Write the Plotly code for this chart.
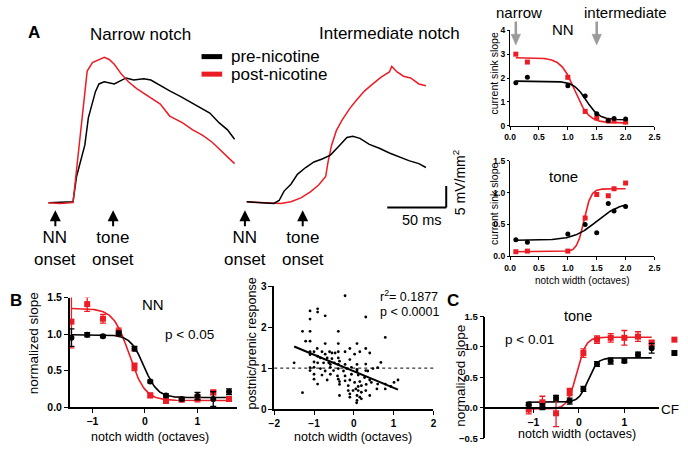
import numpy as np
import plotly.graph_objects as go

W, H = 688, 452
RED = "#ec1c24"
BLK = "#000000"
GREY = "#9a9a9a"
FONT = "Liberation Sans, Arial, sans-serif"

# ---------------- Panel A: example current-sink traces (ms, mV/mm^2) -------------
narrow_pre_t = [0, 21, 24, 27.5, 31, 34, 37, 40, 43, 47.5, 56, 62, 66, 72.5, 81, 87, 95, 103, 112, 120, 128, 137, 145, 152, 158]
narrow_pre_v = [0, 0.2, 6.1, 9.5, 13.4, 19.8, 23.2, 25.9, 27.7, 28.2, 27.7, 28.6, 29.1, 28.6, 28.9, 28.6, 27.3, 26.1, 24.8, 23.6, 22.3, 20.9, 18.6, 17.0, 14.8]
narrow_post_t = [0, 10, 21, 24, 27.5, 31, 33, 37.5, 41.7, 47.5, 51.7, 56, 62, 68, 75, 85, 95, 103, 114, 122.5, 131, 139, 147.5, 158]
narrow_post_v = [0, -0.2, 0, 7.3, 16.4, 24.3, 30.7, 32.7, 33.2, 33.9, 33.4, 32.3, 30.0, 28.2, 26.6, 24.8, 23.0, 20.2, 18.6, 17.0, 15.7, 14.1, 11.8, 9.1]
inter_pre_t = [0, 12.5, 23, 27.5, 31.7, 37.5, 43, 50, 57, 64, 71, 77.5, 85, 90, 96, 104, 112.5, 121, 129, 137.5, 146, 152]
inter_pre_v = [0.2, 0, -0.2, 0.5, 2.7, 4.3, 6.6, 8.2, 9.5, 10.2, 11.1, 13.0, 15.2, 15.5, 15.0, 13.6, 12.7, 11.6, 10.7, 9.8, 9.1, 8.2]
inter_post_t = [0, 16.7, 29, 37.5, 46, 54, 61, 67, 69, 72, 76, 81, 87.5, 93, 100, 107, 114, 121, 123, 127.5, 133, 139, 146, 152]
inter_post_v = [0.2, 0, -0.2, 0.2, 1.1, 2.5, 4.1, 6.1, 9.5, 13.4, 16.8, 19.3, 22.0, 23.9, 26.1, 27.7, 29.3, 30.5, 31.8, 30.5, 29.5, 29.1, 27.7, 27.3]
narrow_onsets = [6, 55]        # NN onset, tone onset (ms)
inter_onsets = [-1.5, 47.5]
onset_labels = ["NN<br>onset", "tone<br>onset"]
scale_ms, scale_mv = 50, 5

# ---------------- Panel A right: current sink slope vs notch width ----------------
width_oct = [0.1, 0.3, 1.0, 1.3, 1.5, 1.7, 1.8, 2.0]
nn_pre = [1.80, 2.03, 1.68, 1.25, 0.50, 0.22, 0.30, 0.28]
nn_post = [3.00, 2.67, 2.03, 0.60, 0.32, 0.20, 0.20, 0.15]
tone_pre = [0.26, 0.22, 0.35, 0.50, 0.37, 0.83, 0.71, 0.78]
tone_post = [0.07, 0.08, 0.08, 0.60, 0.97, 0.95, 1.06, 1.15]
# sigmoid fit parameters: (left level, right level, x50, slope factor)
nn_pre_fit = (1.87, 0.25, 1.32, 0.11)
nn_post_fit = (2.85, 0.12, 1.12, 0.12)
tone_pre_fit = (0.25, 0.85, 1.50, 0.20)
tone_post_fit = (0.07, 1.06, 1.28, 0.06)
arrow_marks = {"narrow": 0.1, "intermediate": 1.5}

# ---------------- Panel B: NN normalized slope -------------------------------------
b_x = [-1.4, -1.1, -0.8, -0.5, -0.2, 0.1, 0.4, 0.7, 1.0, 1.3, 1.6]
b_pre = [0.95, 0.99, 0.97, 1.01, 0.80, 0.35, 0.16, 0.11, 0.15, 0.11, 0.21]
b_pre_err = [0.12, 0.03, 0.02, 0.03, 0.03, 0.02, 0.02, 0.02, 0.05, 0.10, 0.04]
b_post = [1.17, 1.41, 1.21, 1.03, 0.55, 0.16, 0.09, 0.10, 0.12, 0.20, 0.11]
b_post_err = [0.36, 0.10, 0.06, 0.05, 0.05, 0.03, 0.04, 0.02, 0.05, 0.03, 0.03]
b_pre_fit = (0.99, 0.13, -0.02, 0.13)
b_post_fit = (1.35, 0.09, -0.30, 0.15)

# ---------------- Panel B middle: post/pre ratio scatter ---------------------------
sc_x = [-0.22, -1.10, -0.91, -0.91, -1.10, -0.72, 0.30, -1.29, -1.10, -0.39, 0.79, -1.21, -1.10, -0.72, -0.39,
        0.08, -0.10, -0.92, 0.30, -1.10, -1.00, -0.80, -0.61, -0.55, -0.72, -0.47, -0.39, -0.22, 0.02, 0.15,
        -1.10, -0.91, -0.84, -0.67, -0.55, -0.39, -0.36, -0.10, 0.40, -1.50, -1.00, -0.91, -0.76, -0.63, -0.49,
        -0.39, -0.22, 0.08, 0.30, 0.68, -1.10, -1.00, -0.84, -0.59, -0.59, -0.39, -0.18, -0.06, 0.08, 0.30,
        0.48, 0.60, -1.10, -0.72, -0.51, -0.26, 0.08, 0.35, -1.00, -0.80, -0.59, -0.41, -0.22, -0.06, 0.11,
        0.27, 0.40, -1.00, -0.67, -0.39, -0.36, -0.22, -0.10, 0.02, 0.15, 0.31, 0.44, 0.60, 0.79, 1.01,
        1.11, -0.91, -0.36, -0.14, 0.11, 0.19, 0.58, 0.79, 0.93, -1.29, -0.36, -0.14, -0.10, -0.02, 0.05,
        0.11, 0.19, 0.30, 0.08, 0.15, -0.10, 0.08, 0.19, 0.07, 0.40]
sc_y = [2.77, 2.40, 2.45, 2.37, 2.20, 2.28, 2.25, 1.90, 1.90, 1.90, 1.75, 1.66, 1.66, 1.60, 1.60,
        1.60, 1.48, 1.48, 1.48, 1.40, 1.40, 1.40, 1.40, 1.37, 1.34, 1.37, 1.40, 1.40, 1.34, 1.40,
        1.33, 1.29, 1.25, 1.25, 1.23, 1.25, 1.17, 1.21, 1.37, 1.13, 1.15, 1.13, 1.13, 1.13, 1.13,
        1.09, 1.09, 1.09, 1.10, 1.14, 1.01, 1.02, 0.99, 1.02, 1.09, 0.99, 0.99, 1.02, 0.97, 0.94,
        0.99, 1.01, 0.94, 0.93, 0.94, 0.93, 0.93, 0.93, 0.85, 0.83, 0.85, 0.81, 0.81, 0.85, 0.83,
        0.77, 0.71, 0.73, 0.71, 0.73, 0.67, 0.69, 0.71, 0.65, 0.67, 0.60, 0.65, 0.61, 0.61, 0.65,
        0.71, 0.61, 0.60, 0.57, 0.55, 0.57, 0.49, 0.49, 0.55, 0.40, 0.33, 0.45, 0.37, 0.45, 0.49,
        0.45, 0.41, 0.45, 0.33, 0.29, 0.29, 0.21, 0.25, 0.15, 0.33]
reg_slope, reg_intercept = -0.404, 0.924
ref_level = 1.0

# ---------------- Panel C: tone normalized slope -----------------------------------
c_x = [-1.1, -0.8, -0.5, -0.2, 0.1, 0.4, 0.7, 1.0, 1.3, 1.6]
c_pre = [0.06, 0.02, 0.165, 0.11, 0.31, 0.72, 0.77, 0.77, 0.875, 0.98]
c_pre_err = [0.03, 0.05, 0.04, 0.05, 0.04, 0.04, 0.05, 0.03, 0.04, 0.08]
c_post = [-0.03, 0.09, -0.09, 0.26, 0.90, 1.12, 1.15, 1.15, 1.17, 1.06]
c_post_err = [0.07, 0.10, 0.22, 0.06, 0.07, 0.06, 0.07, 0.12, 0.08, 0.05]
c_pre_fit = (0.09, 0.82, 0.20, 0.10)
c_post_fit = (-0.02, 1.16, -0.05, 0.10)
cf_x = 2.1
cf_pre, cf_post = 0.90, 1.12


def sig(x, p):
    left, right, x50, k = p
    return left + (right - left) / (1.0 + np.exp(-(x - x50) / k))


def fx(x):
    return x / W


def fy(y):
    return 1 - y / H


fig = go.Figure()

# ---- A traces
for t, v, c, ax in [(narrow_pre_t, narrow_pre_v, BLK, 1), (narrow_post_t, narrow_post_v, RED, 1),
                    (inter_post_t, inter_post_v, RED, 2), (inter_pre_t, inter_pre_v, BLK, 2)]:
    fig.add_trace(go.Scatter(x=t, y=v, mode="lines", line=dict(color=c, width=1.5),
                             xaxis="x" if ax == 1 else "x2", yaxis="y" if ax == 1 else "y2",
                             showlegend=False, hoverinfo="skip"))


def add_pair(xs, ypre, ypost, fpre, fpost, xa, ya, epre=None, epost=None, msize=6):
    xx = np.linspace(min(xs), max(xs), 200)
    fig.add_trace(go.Scatter(x=xx, y=sig(xx, fpost), mode="lines", line=dict(color=RED, width=1.6),
                             xaxis=xa, yaxis=ya, showlegend=False, hoverinfo="skip"))
    fig.add_trace(go.Scatter(x=xx, y=sig(xx, fpre), mode="lines", line=dict(color=BLK, width=1.6),
                             xaxis=xa, yaxis=ya, showlegend=False, hoverinfo="skip"))
    fig.add_trace(go.Scatter(x=xs, y=ypost, mode="markers",
                             marker=dict(symbol="square", color=RED, size=msize),
                             error_y=None if epost is None else dict(type="data", array=epost, color=RED,
                                                                     thickness=1.3, width=3),
                             xaxis=xa, yaxis=ya, showlegend=False, cliponaxis=False))
    fig.add_trace(go.Scatter(x=xs, y=ypre, mode="markers",
                             marker=dict(symbol="circle", color=BLK, size=msize),
                             error_y=None if epre is None else dict(type="data", array=epre, color=BLK,
                                                                    thickness=1.3, width=3),
                             xaxis=xa, yaxis=ya, showlegend=False, cliponaxis=False))


add_pair(width_oct, nn_pre, nn_post, nn_pre_fit, nn_post_fit, "x3", "y3", msize=5)
add_pair(width_oct, tone_pre, tone_post, tone_pre_fit, tone_post_fit, "x4", "y4", msize=5)
add_pair(b_x, b_pre, b_post, b_pre_fit, b_post_fit, "x5", "y5", b_pre_err, b_post_err)
add_pair(c_x, c_pre, c_post, c_pre_fit, c_post_fit, "x7", "y7", c_pre_err, c_post_err)

# CF points (on an extension of panel C's x scale)
fig.add_trace(go.Scatter(x=[cf_x], y=[cf_post], mode="markers", marker=dict(symbol="square", color=RED, size=6),
                         xaxis="x8", yaxis="y7", showlegend=False, cliponaxis=False))
fig.add_trace(go.Scatter(x=[cf_x], y=[cf_pre], mode="markers", marker=dict(symbol="square", color=BLK, size=6),
                         xaxis="x8", yaxis="y7", showlegend=False, cliponaxis=False))

# scatter + regression
fig.add_trace(go.Scatter(x=sc_x, y=sc_y, mode="markers", marker=dict(color=BLK, size=2.8),
                         xaxis="x6", yaxis="y6", showlegend=False, cliponaxis=False))
rx = np.array([min(sc_x), max(sc_x)])
fig.add_trace(go.Scatter(x=rx, y=reg_intercept + reg_slope * rx, mode="lines", line=dict(color=BLK, width=2),
                         xaxis="x6", yaxis="y6", showlegend=False, hoverinfo="skip"))


def axstyle(**kw):
    d = dict(showgrid=False, zeroline=False, showline=True, linecolor=BLK, linewidth=1.6,
             ticks="outside", ticklen=4, tickwidth=1.4, tickcolor=BLK, fixedrange=True,
             tickfont=dict(family=FONT, size=9, color=BLK, weight="bold"))
    d.update(kw)
    return d


small_tf = dict(family=FONT, size=8.5, color=BLK, weight="bold")
hid = dict(visible=False, fixedrange=True)
layout = dict(
    width=W, height=H, margin=dict(l=0, r=0, t=0, b=0),
    paper_bgcolor="white", plot_bgcolor="rgba(0,0,0,0)", showlegend=False,
    font=dict(family=FONT, color=BLK),
    xaxis=dict(hid, domain=[fx(43), fx(236)], range=[0, 160.8], anchor="y"),
    yaxis=dict(hid, domain=[fy(215), fy(40)], range=[-2.95, 36.8], anchor="x"),
    xaxis2=dict(hid, domain=[fx(241), fx(455)], range=[-3.3, 175], anchor="y2"),
    yaxis2=dict(hid, domain=[fy(215), fy(40)], range=[-2.95, 36.8], anchor="x2"),
    xaxis3=axstyle(domain=[fx(513), fx(660)], range=[0, 2.5], anchor="y3",
                   tickvals=[0, 0.5, 1, 1.5, 2, 2.5], tickformat=".1f", linewidth=1.3, ticklen=3,
                   tickfont=small_tf),
    yaxis3=axstyle(domain=[fy(123), fy(25)], range=[0, 4], anchor="x3", tickvals=[0, 1, 2, 3, 4],
                   linewidth=1.3, ticklen=2, tickfont=small_tf),
    xaxis4=axstyle(domain=[fx(513), fx(660)], range=[0, 2.5], anchor="y4",
                   tickvals=[0, 0.5, 1, 1.5, 2, 2.5], tickformat=".1f", linewidth=1.3, ticklen=3,
                   tickfont=small_tf),
    yaxis4=axstyle(domain=[fy(257), fy(159)], range=[0, 1.5], anchor="x4", tickvals=[0, 0.5, 1, 1.5],
                   tickformat=".1f", linewidth=1.3, ticklen=2, tickfont=small_tf),
    xaxis5=axstyle(domain=[fx(65), fx(235)], range=[-1.43, 1.75], anchor="y5", tickvals=[-1, 0, 1],
                   tickfont=dict(family=FONT, size=10.5, color=BLK, weight="bold")),
    yaxis5=axstyle(domain=[fy(412), fy(299.5)], range=[0, 1.5], anchor="x5", tickvals=[0, 0.5, 1, 1.5],
                   tickformat=".1f", tickfont=dict(family=FONT, size=10.5, color=BLK, weight="bold")),
    xaxis6=axstyle(domain=[fx(273), fx(435)], range=[-2, 2], anchor="y6", tickvals=[-2, -1, 0, 1, 2],
                   tickfont=dict(family=FONT, size=10, color=BLK, weight="bold")),
    yaxis6=axstyle(domain=[fy(414), fy(288)], range=[0, 3], anchor="x6", tickvals=[0, 1, 2, 3],
                   tickfont=dict(family=FONT, size=10, color=BLK, weight="bold")),
    xaxis7=axstyle(domain=[fx(488), fx(665)], range=[-2.05, 1.77], anchor="free", position=fy(413),
                   tickvals=[-1, 0, 1], linewidth=2, tickfont=dict(family=FONT, size=10.5, color=BLK, weight="bold")),
    yaxis7=axstyle(domain=[fy(444), fy(319)], range=[-0.5, 1.5], anchor="x7",
                   tickvals=[-0.5, 0, 0.5, 1, 1.5], tickformat=".1f",
                   tickfont=dict(family=FONT, size=9.5, color=BLK, weight="bold")),
    xaxis8=dict(hid, domain=[fx(665), 1.0], range=[1.77, 1.77 + 23 / 46.3], anchor="y7"),
)

ann = []


def txt(x, y, s, size, bold=False, angle=0, xanchor="center", color=BLK):
    ann.append(dict(x=fx(x), y=fy(y), xref="paper", yref="paper", text=s, showarrow=False,
                    xanchor=xanchor, yanchor="middle", textangle=angle,
                    font=dict(family=FONT, size=size, color=color, weight="bold" if bold else "normal")))


txt(28, 27, "A", 17, bold=True)
txt(137, 29, "Narrow notch", 17)
txt(390, 28, "Intermediate notch", 17)
txt(227, 52, "pre-nicotine", 17, xanchor="left")
txt(227, 70, "post-nicotine", 17, xanchor="left")
txt(423, 220, "50 ms", 14.5)
txt(461, 181, "5 mV/mm<sup>2</sup>", 14, angle=-90)

# onset arrows
for xa, ya, onsets in [("x", "y", narrow_onsets), ("x2", "y2", inter_onsets)]:
    for t, lab in zip(onsets, onset_labels):
        ann.append(dict(x=t, y=-1.8, xref=xa, yref=ya, text=lab, showarrow=True, arrowhead=2,
                        arrowsize=1.1, arrowwidth=2, arrowcolor=BLK, ax=0, ay=38, standoff=0,
                        font=dict(family=FONT, size=17, color=BLK)))

txt(522, 7, "narrow", 15)
txt(630, 7, "intermediate", 15)
txt(567, 24, "NN", 15)
txt(567, 175, "tone", 15)
txt(497, 69, "current sink slope", 10.5, angle=-90)
txt(496, 203, "current sink slope", 10.5, angle=-90)
txt(587, 282, "notch width (octaves)", 10)

# B
txt(10, 303, "B", 17, bold=True)
txt(150, 307, "NN", 15)
txt(187, 337, "p &lt; 0.05", 13.5)
txt(28, 347, "normalized slope", 13.5, angle=-90)
txt(147, 443, "notch width (octaves)", 12.5)
# scatter
txt(250, 347, "postnic/prenic response", 12.5, angle=-90)
txt(379, 297.5, "r<sup>2</sup>= 0.1877", 12.5, xanchor="left")
txt(379, 314, "p &lt; 0.0001", 12.5, xanchor="left")
txt(353, 443, "notch width (octaves)", 12.5)
# C
txt(455, 303, "C", 17, bold=True)
txt(582, 318, "tone", 14.5)
txt(533, 343, "p &lt; 0.01", 13.5)
txt(463, 380, "normalized slope", 13.5, angle=-90)
txt(581, 440, "notch width (octaves)", 12.5)
txt(687, 414, "CF", 13.5, xanchor="right")

shapes = [
    # legend swatches
    dict(type="line", xref="paper", yref="paper", x0=fx(199), x1=fx(220), y0=fy(52), y1=fy(52),
         line=dict(color=BLK, width=5)),
    dict(type="line", xref="paper", yref="paper", x0=fx(199), x1=fx(220), y0=fy(70), y1=fy(70),
         line=dict(color=RED, width=5)),
    # scale bars (in intermediate trace axis units)
    dict(type="line", xref="x2", yref="y2", x0=169.2 - scale_ms, x1=169.2, y0=-1.14, y1=-1.14,
         line=dict(color=BLK, width=2)),
    dict(type="line", xref="x2", yref="y2", x0=169.2, x1=169.2, y0=-1.14, y1=-1.14 + scale_mv,
         line=dict(color=BLK, width=2)),
    # reference level in scatter
    dict(type="line", xref="x6 domain", yref="y6", x0=0, x1=1, y0=ref_level, y1=ref_level,
         line=dict(color=BLK, width=1, dash="dot")),
]

# grey marker arrows above the NN panel (pointing at notch widths)
hw = 4.8 / ((660 - 513) / 2.5)   # half arrowhead width in data units
for name, xv in arrow_marks.items():
    shapes.append(dict(type="line", xref="x3", yref="paper", x0=xv, x1=xv, y0=fy(16), y1=fy(31),
                       line=dict(color=GREY, width=2.5)))
    shapes.append(dict(type="path", xref="x3", yref="paper",
                       path=f"M {xv - hw},{fy(29)} L {xv + hw},{fy(29)} L {xv},{fy(40)} Z",
                       fillcolor=GREY, line=dict(color=GREY, width=0.5)))

layout["annotations"] = ann
layout["shapes"] = shapes
fig.update_layout(**layout)
fig.write_html("out.html", config={"displayModeBar": False},
               post_script="document.body.style.margin='0';document.body.style.padding='0';"
                           "document.body.style.overflow='hidden';")
